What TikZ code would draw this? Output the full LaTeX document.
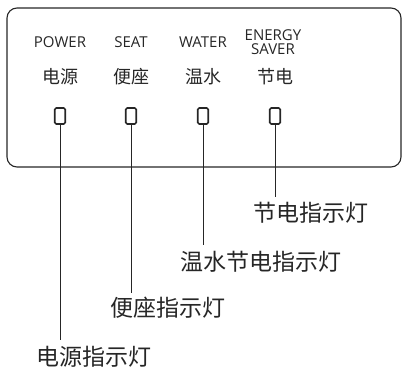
\documentclass[tikz,border=0pt]{standalone}
\usepackage{fontspec}
\setmainfont{Open Sans}
\newfontfamily\cjk{Noto Sans CJK SC}
\definecolor{ink}{HTML}{262626}
\begin{document}
\begin{tikzpicture}[x=1pt,y=-1pt,
  en/.style={text=ink,font=\fontsize{15}{14}\selectfont,inner sep=0pt,align=center},
  zh/.style={text=ink,font=\cjk\fontsize{18}{20}\selectfont,inner sep=0pt},
  lab/.style={text=ink,font=\cjk\fontsize{23}{25}\selectfont,inner sep=0pt},
  led/.style={draw=ink,line width=1.6pt,rounded corners=1.5pt,minimum width=10.5pt,minimum height=16pt,inner sep=0pt},
  wire/.style={draw=ink,line width=0.9pt}]
\useasboundingbox (0,0) rectangle (403,372);
\draw[ink,line width=1.1pt,rounded corners=10pt] (7,8) rectangle (401,167);
\node[en] (e1) at (60,42) {POWER};
\node[en] (e2) at (131,42) {SEAT};
\node[en] (e3) at (203,42) {WATER};
\node[en] (e4) at (273,42) {ENERGY\\SAVER};
\node[zh] (z1) at (60,77) {电源};
\node[zh] (z2) at (131,77) {便座};
\node[zh] (z3) at (203,77) {温水};
\node[zh] (z4) at (275,77) {节电};
\node[led] (l1) at (60,116) {};
\node[led] (l2) at (131,116) {};
\node[led] (l3) at (203,116) {};
\node[led] (l4) at (275,116) {};
\coordinate (c1) at (60,340);
\coordinate (c2) at (131,293);
\coordinate (c3) at (203,245);
\coordinate (c4) at (275,197);
\draw[wire] (l1.south) -- (c1);
\draw[wire] (l2.south) -- (c2);
\draw[wire] (l3.south) -- (c3);
\draw[wire] (l4.south) -- (c4);
\node[lab] (t4) at (311,213) {节电指示灯};
\node[lab] (t3) at (260.5,262) {温水节电指示灯};
\node[lab] (t2) at (167.5,308) {便座指示灯};
\node[lab] (t1) at (93.5,357) {电源指示灯};
\end{tikzpicture}
\end{document}
